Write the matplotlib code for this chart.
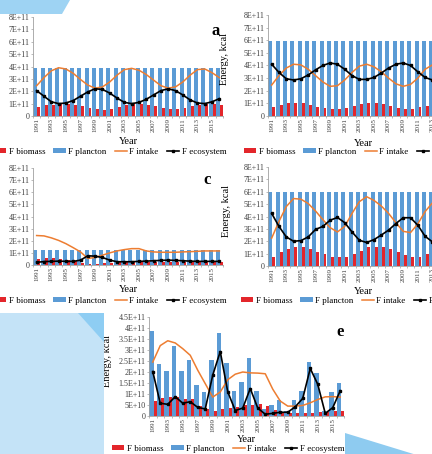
import numpy as np
import matplotlib
matplotlib.use("Agg")
import matplotlib.pyplot as plt
from matplotlib.patches import Polygon

W, H = 432, 454
plt.rcParams['font.family'] = ['Liberation Serif', 'DejaVu Serif']

# values in units of 1E+11 kcal
years = list(range(1991, 2017))

a_plancton = [3.85, 3.85, 3.85, 3.85, 3.85, 3.85, 3.85, 3.85, 3.85, 3.85, 3.85, 3.85, 3.85,
              3.85, 3.85, 3.85, 3.85, 3.85, 3.85, 3.85, 3.85, 3.85, 3.85, 3.85, 3.85, 3.85]
a_biomass = [0.70, 0.85, 0.90, 0.95, 0.95, 0.90, 0.78, 0.65, 0.55, 0.52, 0.60, 0.75, 0.87,
             0.95, 1.00, 0.90, 0.78, 0.65, 0.55, 0.55, 0.65, 0.80, 0.90, 0.95, 0.95, 0.85]
a_intake = [2.45, 3.10, 3.65, 3.90, 3.80, 3.45, 2.95, 2.50, 2.25, 2.35, 2.75, 3.30, 3.75,
            3.85, 3.70, 3.35, 2.90, 2.45, 2.25, 2.35, 2.75, 3.30, 3.75, 3.80, 3.50, 3.10]
a_ecosystem = [2.05, 1.60, 1.15, 1.00, 1.05, 1.25, 1.60, 1.95, 2.20, 2.15, 1.85, 1.45, 1.10,
               1.00, 1.10, 1.35, 1.70, 2.05, 2.20, 2.05, 1.70, 1.30, 1.05, 1.00, 1.15, 1.40]

b_plancton = [5.95, 5.95, 5.95, 5.95, 5.95, 5.95, 5.95, 5.95, 5.95, 5.95, 5.95, 5.95, 5.95,
              5.95, 5.95, 5.95, 5.95, 5.95, 5.95, 5.95, 5.95, 5.95, 5.95, 5.95, 5.95, 5.95]
b_biomass = [0.70, 0.88, 1.00, 1.05, 1.00, 0.90, 0.75, 0.62, 0.57, 0.58, 0.65, 0.80, 0.95,
             1.02, 1.02, 0.92, 0.78, 0.65, 0.57, 0.57, 0.68, 0.82, 0.97, 1.03, 1.00, 0.90]
b_intake = [2.45, 3.20, 3.80, 4.10, 4.05, 3.70, 3.20, 2.70, 2.35, 2.40, 2.85, 3.45, 3.95,
            4.10, 3.90, 3.50, 3.00, 2.55, 2.35, 2.50, 3.00, 3.70, 4.05, 4.10, 3.90, 3.50]
b_ecosystem = [4.10, 3.45, 2.95, 2.85, 2.95, 3.25, 3.65, 4.00, 4.20, 4.10, 3.70, 3.20, 2.90,
               2.90, 3.05, 3.40, 3.80, 4.10, 4.20, 4.00, 3.50, 3.05, 2.85, 2.90, 3.10, 3.45]

c_plancton = [1.20, 1.20, 1.20, 1.20, 1.20, 1.20, 1.20, 1.20, 1.20, 1.20, 1.20, 1.20, 1.20,
              1.20, 1.20, 1.20, 1.20, 1.20, 1.20, 1.20, 1.20, 1.20, 1.20, 1.20, 1.20, 1.20]
c_biomass = [0.50, 0.55, 0.55, 0.50, 0.45, 0.35, 0.20, 0.08, 0.10, 0.15, 0.20, 0.25, 0.25,
             0.25, 0.25, 0.25, 0.25, 0.25, 0.25, 0.25, 0.25, 0.25, 0.25, 0.25, 0.25, 0.25]
c_intake = [2.43, 2.40, 2.24, 2.03, 1.76, 1.43, 1.08, 0.54, 0.62, 0.81, 1.00, 1.16, 1.27,
            1.35, 1.35, 1.16, 1.08, 1.05, 1.05, 1.05, 1.08, 1.10, 1.13, 1.16, 1.16, 1.16]
c_ecosystem = [0.22, 0.28, 0.30, 0.32, 0.30, 0.30, 0.40, 0.76, 0.73, 0.62, 0.40, 0.27, 0.27,
               0.27, 0.30, 0.32, 0.35, 0.38, 0.40, 0.38, 0.35, 0.32, 0.30, 0.30, 0.30, 0.30]

d_plancton = [5.95, 5.95, 5.95, 5.95, 5.95, 5.95, 5.95, 5.95, 5.95, 5.95, 5.95, 5.95, 5.95,
              5.95, 5.95, 5.95, 5.95, 5.95, 5.95, 5.95, 5.95, 5.95, 5.95, 5.95, 5.95, 5.95]
d_biomass = [0.75, 1.10, 1.35, 1.50, 1.50, 1.35, 1.15, 0.95, 0.75, 0.70, 0.75, 0.95, 1.25,
             1.50, 1.55, 1.50, 1.35, 1.10, 0.85, 0.70, 0.75, 1.00, 1.30, 1.50, 1.50, 1.35]
d_intake = [2.25, 3.60, 4.80, 5.45, 5.40, 5.05, 4.45, 3.75, 3.10, 2.75, 3.20, 4.25, 5.20,
            5.60, 5.30, 4.85, 4.25, 3.50, 2.80, 2.70, 3.40, 4.40, 5.10, 5.50, 5.35, 4.90]
d_ecosystem = [4.25, 3.20, 2.35, 2.00, 2.05, 2.35, 2.95, 3.20, 3.70, 3.92, 3.50, 2.75, 2.08,
               1.90, 2.13, 2.50, 2.90, 3.43, 3.90, 3.90, 3.30, 2.40, 1.95, 1.90, 2.20, 2.60]

e_plancton = [3.85, 2.38, 2.03, 3.18, 2.05, 2.53, 1.39, 1.09, 2.53, 3.77, 2.41, 1.12, 1.55,
              2.65, 1.12, 0.30, 0.52, 0.74, 0.25, 0.73, 1.15, 2.47, 1.94, 0.25, 1.07, 1.50]
e_biomass = [0.68, 0.83, 0.85, 0.88, 0.76, 0.76, 0.45, 0.32, 0.23, 0.32, 0.35, 0.42, 0.50,
             0.50, 0.53, 0.47, 0.27, 0.17, 0.12, 0.15, 0.12, 0.15, 0.17, 0.20, 0.22, 0.25]
e_intake = [2.45, 3.20, 3.42, 3.32, 3.06, 2.76, 2.08, 1.47, 0.86, 1.09, 1.65, 1.90, 2.00,
            1.96, 1.95, 1.92, 1.22, 0.68, 0.45, 0.45, 0.48, 0.60, 0.75, 0.87, 0.88, 0.86]
e_ecosystem = [2.02, 0.58, 0.53, 0.88, 0.58, 0.65, 0.39, 0.32, 1.86, 2.93, 1.10, 0.25, 0.36,
               1.25, 0.36, 0.08, 0.12, 0.17, 0.17, 0.42, 0.80, 2.16, 1.44, 0.12, 0.38, 1.15]

ticks_8 = [0, 1, 2, 3, 4, 5, 6, 7, 8]
labels_8 = ['0', '1E+11', '2E+11', '3E+11', '4E+11', '5E+11', '6E+11', '7E+11', '8E+11']
ticks_45 = [0, 0.5, 1, 1.5, 2, 2.5, 3, 3.5, 4, 4.5]
labels_45 = ['0', '5E+10', '1E+11', '1.5E+11', '2E+11', '2.5E+11', '3E+11', '3.5E+11',
             '4E+11', '4.5E+11']

RED = '#e3262b'
BLUE = '#5b9bd5'
ORANGE = '#ed7d31'
AXIS = '#a0a0a0'


def fx(x):
    return x / W


def fy(y):
    return 1 - y / H


fig = plt.figure(figsize=(W / 100, H / 100), dpi=100)

# page decoration behind the charts
shapes = [
    ([(0, 0), (70, 0), (62, 14), (0, 14)], '#9ed3f3'),
    ([(0, 313), (104, 313), (104, 454), (0, 454)], '#c4e3f7'),
    ([(78, 313), (104, 313), (104, 342)], '#8ecdf3'),
    ([(345, 433), (420, 456), (345, 456)], '#8ecbf0'),
]
for pts, col in shapes:
    fig.patches.append(Polygon([(fx(x), fy(y)) for x, y in pts], closed=True,
                               transform=fig.transFigure, facecolor=col,
                               edgecolor='none', zorder=0))


def panel(left, top, bottom, width, pl, bi, it, ec, yt, ytl, legend_x, legend_y,
          year_y, ylabel_x=None, letter=None):
    ax = fig.add_axes([fx(left), fy(bottom), width / W, (bottom - top) / H])
    ax.set_facecolor('none')
    x = np.arange(len(years))
    h_pl = ax.bar(x - 0.17, pl, width=0.55, color=BLUE, zorder=2)
    h_bi = ax.bar(x + 0.3, bi, width=0.4, color=RED, zorder=2)
    h_it, = ax.plot(x, it, color=ORANGE, lw=1.1, zorder=3)
    h_ec, = ax.plot(x, ec, color='black', lw=1.2, marker='s', ms=1.8, zorder=4)
    ax.set_xlim(-0.5, len(years) - 0.5)
    ax.set_ylim(yt[0], yt[-1])
    ax.set_yticks(yt)
    ax.set_yticklabels(ytl, fontsize=5.8)
    ax.set_xticks(x[::2])
    ax.set_xticklabels(years[::2], rotation=90, fontsize=5.0, color='#404040')
    ax.set_xticks(np.arange(len(years) + 1) - 0.5, minor=True)
    ax.tick_params(axis='x', which='major', length=0, pad=1.5)
    ax.tick_params(axis='x', which='minor', length=1.5, color=AXIS, width=0.5)
    ax.tick_params(axis='y', length=1.5, color=AXIS, width=0.5, pad=1, labelcolor='#404040')
    for s in ['top', 'right']:
        ax.spines[s].set_visible(False)
    for s in ['left', 'bottom']:
        ax.spines[s].set_color(AXIS)
        ax.spines[s].set_linewidth(0.6)
    ax.set_xlabel('Year', fontsize=7.5)
    ax.xaxis.set_label_coords(0.5, (bottom - year_y) / (bottom - top), transform=ax.transAxes)
    ax.xaxis.label.set_va('center')
    if ylabel_x is not None:
        ax.set_ylabel('Energy, kcal', fontsize=7.5)
        ax.yaxis.set_label_coords((ylabel_x - left) / width, 0.56)
    ax.legend([h_bi, h_pl, h_it, h_ec], ['F biomass', 'F plancton', 'F intake', 'F ecosystem'],
              loc='center', bbox_to_anchor=(fx(legend_x), fy(legend_y)),
              bbox_transform=fig.transFigure, ncol=4, frameon=False, fontsize=6.5,
              handlelength=1.4, handleheight=0.5, handletextpad=0.25, columnspacing=0.9,
              borderpad=0)
    if letter is not None:
        fig.text(fx(letter[1]), fy(letter[2]), letter[0], fontsize=12, fontweight='bold',
                 ha='center', va='center')
    return ax


panel(33, 17, 116, 190, a_plancton, a_biomass, a_intake, a_ecosystem, ticks_8, labels_8,
      110, 152, 142, letter=('a', 216, 31))
panel(268, 15, 116, 190, b_plancton, b_biomass, b_intake, b_ecosystem, ticks_8, labels_8,
      360, 152, 143, ylabel_x=229)
panel(33, 168, 265, 190, c_plancton, c_biomass, c_intake, c_ecosystem, ticks_8, labels_8,
      110, 301, 290, letter=('c', 207, 180))
panel(268, 167, 266, 190, d_plancton, d_biomass, d_intake, d_ecosystem, ticks_8, labels_8,
      357, 301, 291, ylabel_x=231)
panel(149, 317, 416, 195, e_plancton, e_biomass, e_intake, e_ecosystem, ticks_45, labels_45,
      228, 449, 439, ylabel_x=112, letter=('e', 340, 332))

fig.savefig('out.png', dpi=100)
